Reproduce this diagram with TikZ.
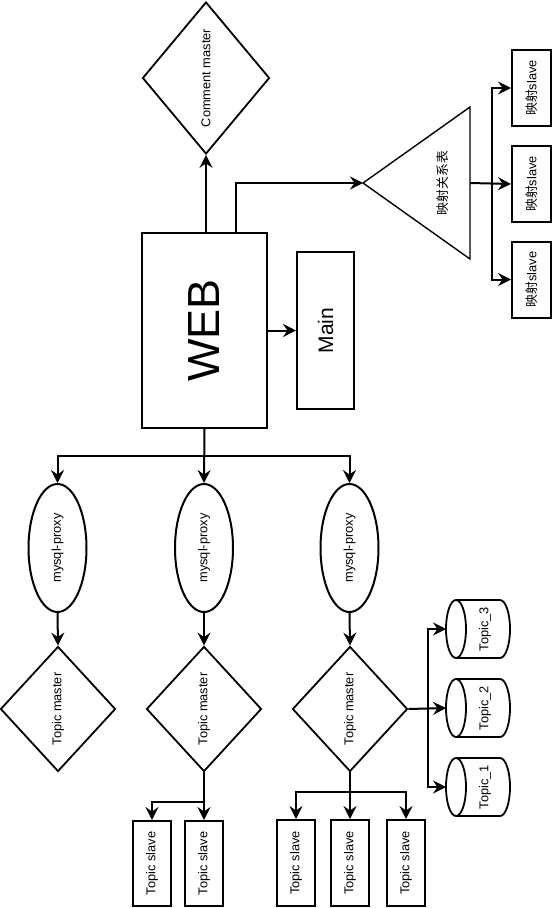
\documentclass[tikz,border=0pt]{standalone}
\usepackage{fontspec}
\setmainfont{Liberation Sans}
\newfontfamily\cjk{Noto Sans CJK SC}
\usetikzlibrary{shapes.geometric,arrows.meta}
\newcommand\vtext[1]{\rotatebox{90}{#1}}
\begin{document}
\begin{tikzpicture}[x=1pt,y=-1pt,
  conn/.style={line width=2pt,-{Stealth[length=13pt,width=13pt,inset=4.5pt]}},
  txt/.style={font=\fontsize{12.8}{15}\selectfont},
  boxnode/.style={txt,draw,rectangle,line width=2pt,inner sep=0pt},
  dia/.style={txt,draw,diamond,line width=1.8pt,inner sep=0pt,aspect=0.8},
  ell/.style={txt,draw,ellipse,line width=2pt,inner sep=0pt},
  lbl/.style={txt,inner sep=0pt},
  outline/.style={line width=1.8pt}
]
\useasboundingbox (0,0) rectangle (554,908);

% top part
\node[dia,minimum width=127pt,minimum height=152pt] (cm) at (206,78) {\vtext{Comment master}};
\node[boxnode,minimum width=125pt,minimum height=195pt,font=\fontsize{45}{50}\selectfont] (web) at (204.5,330.5) {\vtext{WEB}};
\node[boxnode,minimum width=57pt,minimum height=157pt,font=\fontsize{21}{24}\selectfont] (main) at (325.5,330.5) {\vtext{Main}};

% triangle
\coordinate (triA) at (363,183);
\coordinate (triB) at (470,183);
\draw[line width=1.4pt,line join=miter] (triA) -- (470,107) -- (470,259) -- cycle;
\node[lbl] (trilbl) at (442.5,183) {\vtext{\cjk 映射关系表}};

\node[boxnode,minimum width=39pt,minimum height=76pt] (ms1) at (531.5,88) {\vtext{{\cjk 映射}slave}};
\node[boxnode,minimum width=39pt,minimum height=76pt] (ms2) at (531.5,184) {\vtext{{\cjk 映射}slave}};
\node[boxnode,minimum width=39pt,minimum height=76pt] (ms3) at (531.5,279.5) {\vtext{{\cjk 映射}slave}};

\draw[conn] (cm.south |- web.north) -- (cm.south);
\draw[conn] ([xshift=31.5pt]web.north) |- (triA);
\draw[conn] (web.east) -- (main.west);
\coordinate (busA) at (492,183);
\draw[conn] (triB) -- (ms2.west);
\draw[conn] (busA) |- (ms1.west);
\draw[conn] (busA) |- (ms3.west);

% proxies
\node[ell,minimum width=58pt,minimum height=128pt] (px1) at (57.5,548) {\vtext{mysql-proxy}};
\node[ell,minimum width=58pt,minimum height=128pt] (px2) at (204,548) {\vtext{mysql-proxy}};
\node[ell,minimum width=58pt,minimum height=128pt] (px3) at (349.5,548) {\vtext{mysql-proxy}};

\coordinate (busB) at (204.5,456);
\draw[conn] (web.south) -- (px2.north);
\draw[conn] (busB) -| (px1.north);
\draw[conn] (busB) -| (px3.north);

% topic masters
\node[dia,minimum width=115pt,minimum height=125pt] (tm1) at (58,709) {\vtext{Topic master}};
\node[dia,minimum width=115pt,minimum height=125pt] (tm2) at (204,709) {\vtext{Topic master}};
\node[dia,minimum width=115pt,minimum height=125pt] (tm3) at (350,709) {\vtext{Topic master}};

\draw[conn] (px1.south) -- (tm1.north);
\draw[conn] (px2.south) -- (tm2.north);
\draw[conn] (px3.south) -- (tm3.north);

% topic slaves
\node[boxnode,minimum width=38pt,minimum height=85pt] (ts2a) at (152,863.5) {\vtext{Topic slave}};
\node[boxnode,minimum width=38pt,minimum height=85pt] (ts2b) at (204,863.5) {\vtext{Topic slave}};
\node[boxnode,minimum width=38pt,minimum height=86pt] (ts3a) at (296,863) {\vtext{Topic slave}};
\node[boxnode,minimum width=38pt,minimum height=86pt] (ts3b) at (350,863) {\vtext{Topic slave}};
\node[boxnode,minimum width=38pt,minimum height=86pt] (ts3c) at (406,863) {\vtext{Topic slave}};

\coordinate (busC) at (204,802);
\draw[conn] (tm2.south) -- (ts2b.north);
\draw[conn] (busC) -| (ts2a.north);
\coordinate (busD) at (350,792);
\draw[conn] (tm3.south) -- (ts3b.north);
\draw[conn] (busD) -| (ts3a.north);
\draw[conn] (busD) -| (ts3c.north);

% cylinders
\foreach \n/\yc/\t in {c3/629/Topic\_3, c2/708/Topic\_2, c1/787/Topic\_1}{
  \draw[outline] (456,\yc) ellipse [x radius=10pt, y radius=29pt];
  \draw[outline] (456,\yc-29) -- (500,\yc-29) arc[start angle=90,end angle=-90,x radius=10pt,y radius=29pt] -- (456,\yc+29);
  \node[lbl] (\n) at (485,\yc) {\vtext{\t}};
  \coordinate (\n w) at (446,\yc);
}
\coordinate (busE) at (428,709);
\draw[conn] (tm3.east) -- (c2w);
\draw[conn] (busE) |- (c3w);
\draw[conn] (busE) |- (c1w);
\end{tikzpicture}
\end{document}
